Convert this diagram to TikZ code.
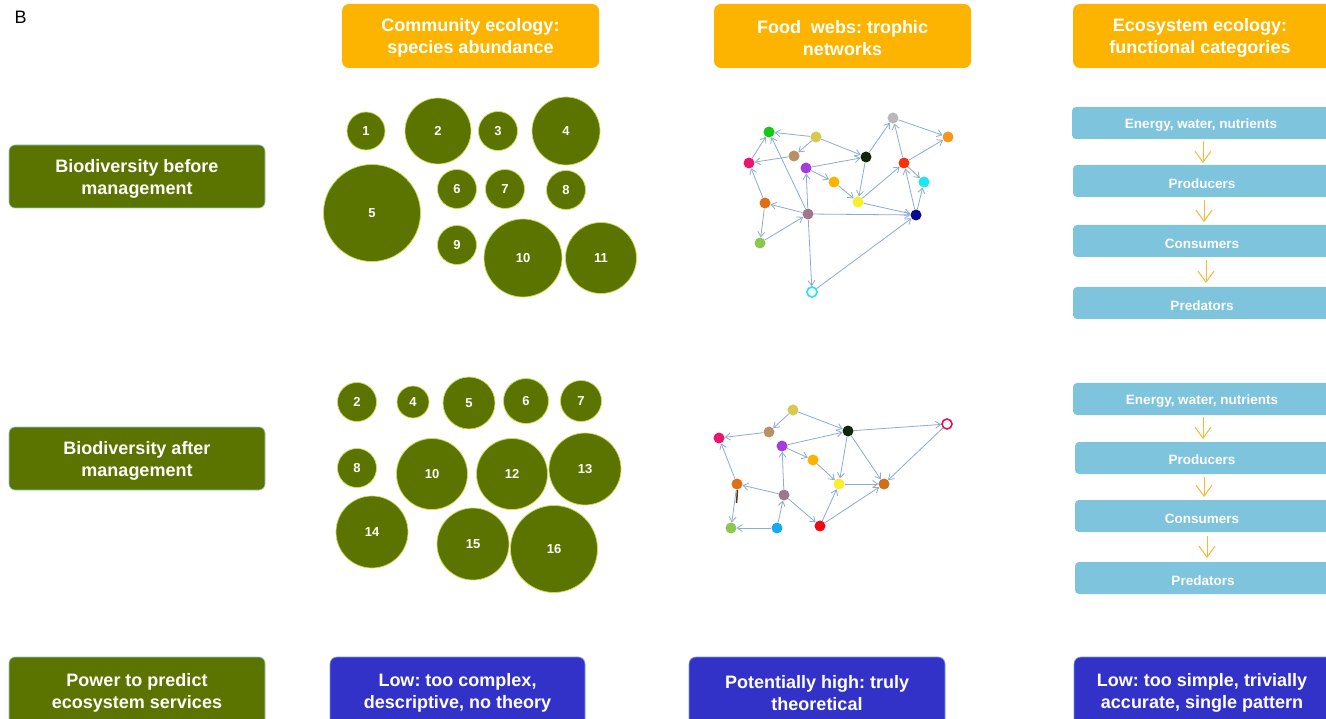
\documentclass[tikz,border=0pt]{standalone}
\usepackage{fontspec}
\setmainfont{Liberation Sans}
\usetikzlibrary{arrows.meta}
\frenchspacing
\definecolor{olive}{RGB}{91,116,0}
\definecolor{oliveedge}{RGB}{205,220,90}
\definecolor{hdr}{RGB}{253,180,0}
\definecolor{blu}{RGB}{50,50,200}
\definecolor{bar}{RGB}{126,196,220}
\definecolor{edgec}{RGB}{140,170,212}
\definecolor{arr}{RGB}{245,185,50}
\definecolor{cgreen}{RGB}{20,200,20}
\definecolor{cyel}{RGB}{215,200,80}
\definecolor{ctan}{RGB}{185,145,100}
\definecolor{cpink}{RGB}{235,20,110}
\definecolor{cpurple}{RGB}{165,60,225}
\definecolor{cdark}{RGB}{15,40,10}
\definecolor{cgray}{RGB}{185,185,185}
\definecolor{corange}{RGB}{245,150,30}
\definecolor{cred}{RGB}{245,50,10}
\definecolor{ccyan}{RGB}{30,230,245}
\definecolor{cgold}{RGB}{250,180,0}
\definecolor{cyellow}{RGB}{245,240,40}
\definecolor{cob}{RGB}{225,110,20}
\definecolor{cmauve}{RGB}{160,120,140}
\definecolor{cnavy}{RGB}{10,10,140}
\definecolor{clg}{RGB}{140,200,80}
\definecolor{cblue}{RGB}{20,170,235}
\definecolor{cred2}{RGB}{240,10,20}
\definecolor{cring}{RGB}{220,20,90}
\definecolor{corR}{RGB}{210,110,20}
\tikzset{
  bigtxt/.style={text=white, font=\bfseries\fontsize{18}{22}\selectfont, align=center, yshift=-2pt},
  gbox/.style={fill=olive, draw={rgb,255:red,150;green,200;blue,200}, line width=0.6pt, rounded corners=6pt},
  obox/.style={fill=hdr, rounded corners=7pt},
  bbox/.style={fill=blu, draw={rgb,255:red,120;green,150;blue,230}, line width=0.6pt, rounded corners=7pt},
  lbar/.style={fill=bar, rounded corners=4pt},
  bartxt/.style={text=white, font=\bfseries\fontsize{13.5}{16}\selectfont, yshift=-2pt},
  sp/.style={circle, fill=olive, draw=oliveedge, line width=0.7pt, inner sep=0pt, minimum size=#1, text=white, font=\bfseries\fontsize{13}{15}\selectfont},
  fw/.style={circle, fill=#1, inner sep=0pt, minimum size=11pt},
  fwr/.style={circle, fill=white, draw=#1, line width=1.6pt, inner sep=0pt, minimum size=10pt},
  ed/.style={draw=edgec, line width=0.8pt, -{Straight Barb[length=5pt,width=7pt]}},
  dn/.style={draw=arr, line width=1pt, -{Straight Barb[length=11pt,width=16pt]}}
}
\begin{document}
\begin{tikzpicture}[x=1pt,y=-1pt]
\clip (0,0) rectangle (1326,719);
\fill[white] (0,0) rectangle (1326,719);
\node[font=\fontsize{18}{20}\selectfont, anchor=west] (B) at (11,17) {B};

% headers
\path[obox] (342,4) rectangle (599,68);
\node[bigtxt] (h1) at (470.5,36) {Community ecology:\\species abundance};
\path[obox] (714,4) rectangle (971,68);
\node[bigtxt] (h2) at (842.5,36) {Food\ \ webs: trophic\\networks};
\path[obox] (1073,4) rectangle (1345,68);
\node[bigtxt] (h3) at (1200,36) {Ecosystem ecology:\\functional categories};

% left labels
\path[gbox] (9,145) rectangle (265,208);
\node[bigtxt] (l1) at (137,177) {Biodiversity before\\management};
\path[gbox] (9,427) rectangle (265,490);
\node[bigtxt] (l2) at (137,459) {Biodiversity after\\management};
\path[gbox] (9,657) rectangle (265,730);
\node[bigtxt] (l3) at (137,691) {Power to predict\\ecosystem services};

% bottom boxes
\path[bbox] (330,657) rectangle (585,730);
\node[bigtxt] (p1) at (457.5,691) {Low: too complex,\\descriptive, no theory};
\path[bbox] (689,657) rectangle (945,730);
\node[bigtxt] (p2) at (817,691) {Potentially high: truly\\theoretical};
\path[bbox] (1074,657) rectangle (1345,730);
\node[bigtxt] (p3) at (1202,691) {Low: too simple, trivially\\accurate, single pattern};

% species circles before
\node[sp=38pt] (a1) at (366,131) {1};
\node[sp=66pt] (a2) at (438,131) {2};
\node[sp=39pt] (a3) at (498,131) {3};
\node[sp=68pt] (a4) at (566,131) {4};
\node[sp=97pt] (a5) at (372,213) {5};
\node[sp=39pt] (a6) at (457,189) {6};
\node[sp=39pt] (a7) at (505,189) {7};
\node[sp=39pt] (a8) at (566,190) {8};
\node[sp=39pt] (a9) at (457,245) {9};
\node[sp=78pt] (a10) at (523,258) {10};
\node[sp=71pt] (a11) at (601,258) {11};

% species circles after
\node[sp=39pt] (b2) at (357,402) {2};
\node[sp=32pt] (b4) at (413,402) {4};
\node[sp=52pt] (b5) at (469,403) {5};
\node[sp=45pt] (b6) at (526,401) {6};
\node[sp=41pt] (b7) at (581,401) {7};
\node[sp=39pt] (b8) at (357,468) {8};
\node[sp=71pt] (b10) at (432,474) {10};
\node[sp=71pt] (b12) at (512,474) {12};
\node[sp=72pt] (b13) at (585,469) {13};
\node[sp=72pt] (b14) at (372,532) {14};
\node[sp=72pt] (b15) at (473,544) {15};
\node[sp=87pt] (b16) at (554,549) {16};

% food web before
\node[fw=cgreen] (g) at (769,132) {};
\node[fw=cyel] (y) at (816,137) {};
\node[fw=ctan] (t) at (794,156) {};
\node[fw=cpink] (pk) at (749,163) {};
\node[fw=cpurple] (pu) at (806,168) {};
\node[fw=cdark] (dk) at (866,157) {};
\node[fw=cgray] (gr) at (893,118) {};
\node[fw=corange] (or) at (948,137) {};
\node[fw=cred] (rd) at (904,163) {};
\node[fw=ccyan] (cy) at (924,182) {};
\node[fw=cgold] (go) at (834,182) {};
\node[fw=cyellow] (ye) at (858,202) {};
\node[fw=cob] (ob) at (765,203) {};
\node[fw=cmauve] (mv) at (808,214) {};
\node[fw=cnavy] (nv) at (916,215) {};
\node[fw=clg] (lg) at (760,243) {};
\node[fwr=ccyan] (ho) at (812,292) {};
\foreach \s/\t in {y/g, y/t, y/dk, t/pk, pk/g, ob/pk, mv/g, mv/ob, ob/lg, lg/mv, mv/pu, mv/nv, mv/ho, ho/nv, pu/dk, pu/go, go/ye, dk/ye, dk/gr, gr/or, rd/or, rd/gr, ye/rd, ye/nv, nv/rd, nv/cy, rd/cy}
  \draw[ed] (\s) -- (\t);

% food web after
\node[fw=cyel] (Y) at (793,410) {};
\node[fw=ctan] (T) at (769,432) {};
\node[fw=cpink] (PK) at (719,438) {};
\node[fw=cpurple] (PU) at (782,446) {};
\node[fw=cdark] (DK) at (848,431) {};
\node[fwr=cring] (HO) at (947,424) {};
\node[fw=cgold] (GO) at (813,460) {};
\node[fw=cyellow] (YE) at (839,484) {};
\node[fw=corR] (OR) at (884,484) {};
\node[fw=cob] (OB) at (737,484) {};
\node[fw=cmauve] (MV) at (784,495) {};
\node[fw=clg] (LG) at (731,528) {};
\node[fw=cblue] (BL) at (777,528) {};
\node[fw=cred2] (RD) at (820,526) {};
\foreach \s/\t in {Y/T, Y/DK, T/PK, PU/DK, PU/GO, GO/YE, DK/HO, DK/YE, DK/OR, HO/OR, YE/OR, RD/YE, RD/OR, MV/PU, MV/OB, MV/RD, BL/MV, BL/LG, OB/PK, OB/LG}
  \draw[ed] (\s) -- (\t);
\coordinate (brA) at (737.5,490);
\coordinate (brB) at (736.5,503);
\draw[draw={rgb,255:red,90;green,50;blue,20}, line width=1.5pt] (brA) -- (brB);

% ecosystem bars before
\path[lbar] (1072,107) rectangle (1345,139);
\node[bartxt] (e1) at (1201,123) {Energy, water, nutrients};
\path[lbar] (1073,165) rectangle (1345,197);
\node[bartxt] (e2) at (1202,181.5) {Producers};
\path[lbar] (1073,225) rectangle (1345,257);
\node[bartxt] (e3) at (1202,241.5) {Consumers};
\path[lbar] (1073,287) rectangle (1345,319);
\node[bartxt] (e4) at (1202,303.5) {Predators};
\coordinate (e1b) at (1203,141); \coordinate (e2t) at (1203,163);
\coordinate (e2b) at (1204,200); \coordinate (e3t) at (1204,222);
\coordinate (e3b) at (1206,260); \coordinate (e4t) at (1206,283);
\draw[dn] (e1b) -- (e2t);
\draw[dn] (e2b) -- (e3t);
\draw[dn] (e3b) -- (e4t);

% ecosystem bars after
\path[lbar] (1073,383) rectangle (1345,415);
\node[bartxt] (f1) at (1202,399) {Energy, water, nutrients};
\path[lbar] (1075,442) rectangle (1345,474);
\node[bartxt] (f2) at (1202,458) {Producers};
\path[lbar] (1075,500) rectangle (1345,532);
\node[bartxt] (f3) at (1202,516.5) {Consumers};
\path[lbar] (1075,562) rectangle (1345,594);
\node[bartxt] (f4) at (1203,578.5) {Predators};
\coordinate (f1b) at (1203,417); \coordinate (f2t) at (1203,439);
\coordinate (f2b) at (1204,477); \coordinate (f3t) at (1204,497);
\coordinate (f3b) at (1207,536); \coordinate (f4t) at (1207,558);
\draw[dn] (f1b) -- (f2t);
\draw[dn] (f2b) -- (f3t);
\draw[dn] (f3b) -- (f4t);
\end{tikzpicture}
\end{document}
